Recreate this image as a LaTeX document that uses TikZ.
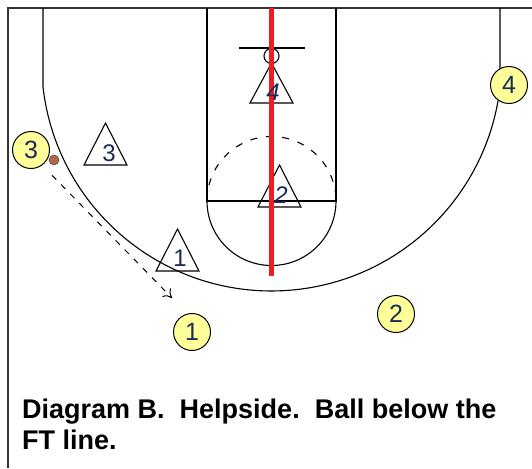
\documentclass[tikz,border=0pt]{standalone}
\usepackage{fontspec}
\setmainfont{Liberation Sans}
\usetikzlibrary{arrows.meta}
\definecolor{pyellow}{HTML}{FFFF99}
\definecolor{ballbrown}{HTML}{B06A46}
\definecolor{lanered}{HTML}{EE1C25}
\definecolor{labelblue}{HTML}{1A2A5A}
\tikzset{
  court/.style={line width=1.1pt, black},
  offense/.style={circle, draw=black, line width=1pt, fill=pyellow, minimum size=37pt, inner sep=0pt, text=labelblue, font=\fontsize{25}{25}\selectfont},
  defense/.style={line width=1.1pt, black},
  dlabel/.style={inner sep=0pt, text=labelblue, font=\fontsize{24}{24}\selectfont},
  caption/.style={anchor=base west, inner sep=0pt, font=\fontsize{27}{31}\selectfont\bfseries}
}
\begin{document}
\begin{tikzpicture}[x=1pt,y=-1pt]
\useasboundingbox (0,0) rectangle (532,468);
% frame
\draw[line width=1.6pt, black!80] (7,8) -- (532,8);
\draw[line width=1.6pt, black!80] (8,8) -- (8,468);
% three point line
\draw[court] (43,8) -- (43,87) arc[start angle=173.5, end angle=6.5, radius=230] -- (500,8);
% lane
\draw[court] (207,8) -- (207,201) -- (336,201) -- (336,8);
\draw[court] (207,201) arc[start angle=180, end angle=0, radius=64.5];
\draw[court, dash pattern=on 7pt off 9pt] (207,201) arc[start angle=180, end angle=360, radius=64.5];
% backboard and rim
\draw[court] (239,48) -- (305,48);
\draw[court] (271.5,56) circle[radius=7.5];
% defenders (triangles)
\draw[defense] (271.5,63) -- (293,103) -- (250,103) -- cycle;
\draw[defense] (279.5,165) -- (301,207) -- (258,207) -- cycle;
\draw[defense] (105.5,123) -- (127,165) -- (84,165) -- cycle;
\draw[defense] (177.5,229) -- (199,271) -- (156,271) -- cycle;
% red line
\draw[lanered, line width=5pt] (271.5,8) -- (271.5,276);
% defender labels
\node[dlabel] (d4) at (273,92) {\itshape 4};
\node[dlabel] (d2) at (281,195) {\itshape 2};
\node[dlabel] (d3) at (109,153) {3};
\node[dlabel] (d1) at (180,258) {1};
% offensive players
\node[offense] (o1) at (192,332) {1};
\node[offense] (o2) at (396,314) {2};
\node[offense] (o3) at (31,150) {3};
\node[offense] (o4) at (509,85) {4};
% ball
\node[circle, draw=black!70, fill=ballbrown, minimum size=10pt, inner sep=0pt, line width=0.6pt] (ball) at (54,160) {};
% pass / movement arrow
\coordinate (aend) at (172,298);
\draw[line width=1pt, dash pattern=on 6pt off 7pt, -{To[length=8pt,width=12pt]}] (ball.south) ++(-2,10) -- (aend);
% caption
\node[caption] (cap1) at (22,418) {Diagram B.\ \ Helpside.\ \ Ball below the};
\node[caption] (cap2) at (22,449) {FT line.};
\end{tikzpicture}
\end{document}
